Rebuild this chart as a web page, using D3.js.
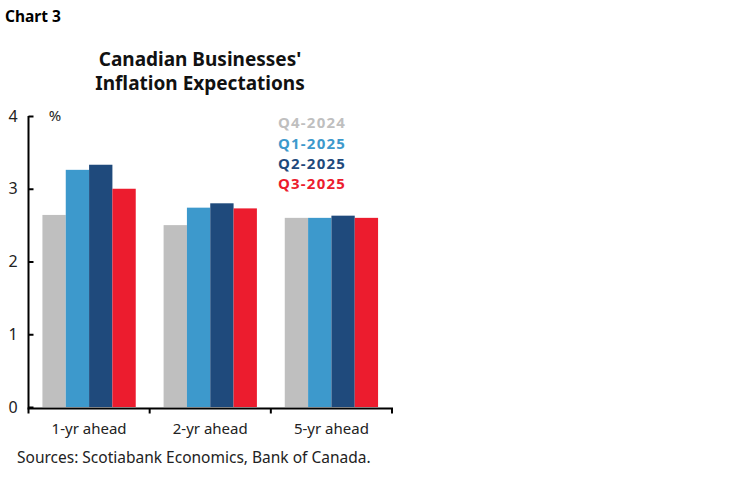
<!DOCTYPE html>
<html>
<head>
<meta charset="utf-8">
<script src="https://cdn.jsdelivr.net/npm/d3@7"></script>
<style>
  body { margin: 0; background: #fff; }
  svg { display: block; font-family: "Noto Sans", "Open Sans", sans-serif; }
</style>
</head>
<body>
<svg id="chart" width="748" height="483"></svg>
<script>
// data
var categories = ["1-yr ahead", "2-yr ahead", "5-yr ahead"];
var seriesNames = ["Q4-2024", "Q1-2025", "Q2-2025", "Q3-2025"];
var q4_2024 = [2.64, 2.50, 2.60];
var q1_2025 = [3.26, 2.74, 2.60];
var q2_2025 = [3.33, 2.80, 2.63];
var q3_2025 = [3.00, 2.73, 2.60];
var yTicks = [0, 1, 2, 3, 4];
var colors = ["#bfbfbf", "#3d99cc", "#1f4a7c", "#ec1c2e"];

var allSeries = [q4_2024, q1_2025, q2_2025, q3_2025];

var svg = d3.select("#chart");
var pLeft = 28.5, pRight = 392, pTop = 116, pBottom = 407;

var xScale = d3.scaleBand().domain(categories).range([pLeft, pRight]).paddingInner(0.23).paddingOuter(0.115);
var xInner = d3.scaleBand().domain(seriesNames).range([0, xScale.bandwidth()]);
var yScale = d3.scaleLinear().domain([0, 4]).range([pBottom, pTop]);

// chart label + title
svg.append("text").attr("x", 5).attr("y", 22)
  .attr("font-size", 15.5).attr("font-weight", "bold").attr("fill", "#000").text("Chart 3");
svg.append("text").attr("x", 200).attr("y", 66).attr("text-anchor", "middle")
  .attr("font-size", 19).attr("font-weight", "bold").attr("fill", "#111").text("Canadian Businesses'");
svg.append("text").attr("x", 200).attr("y", 90).attr("text-anchor", "middle")
  .attr("font-size", 19).attr("font-weight", "bold").attr("fill", "#111").text("Inflation Expectations");

// bars
var groups = svg.selectAll("g.grp")
  .data(categories)
  .enter().append("g").attr("class", "grp")
  .attr("transform", function(d) { return "translate(" + xScale(d) + ",0)"; });

groups.selectAll("rect")
  .data(function(d, i) { return allSeries.map(function(s, j) { return {name: seriesNames[j], v: s[i], c: colors[j]}; }); })
  .enter().append("rect")
  .attr("x", function(d) { return xInner(d.name); })
  .attr("width", xInner.bandwidth())
  .attr("y", function(d) { return yScale(d.v); })
  .attr("height", function(d) { return pBottom - yScale(d.v); })
  .attr("fill", function(d) { return d.c; });

// y axis, ticks pointing inward
var yAxis = d3.axisRight(yScale).tickValues(yTicks).tickSize(5).tickFormat("");
var yG = svg.append("g").attr("transform", "translate(" + pLeft + ",0)").call(yAxis);
yG.select(".domain").attr("stroke", "#000").attr("stroke-width", 2).attr("d", "M0," + pTop + "V" + (pBottom + 1.5));
yG.selectAll(".tick line").attr("stroke", "#000").attr("stroke-width", 2);

yTicks.forEach(function(t) {
  svg.append("text").attr("x", 13).attr("y", yScale(t)).attr("dy", "0.35em")
    .attr("text-anchor", "middle").attr("font-size", 16).attr("fill", "#222").text(t);
});
svg.append("text").attr("x", 55).attr("y", yScale(4)).attr("dy", "0.35em")
  .attr("text-anchor", "middle").attr("font-size", 15).attr("fill", "#222").text("%");

// x axis with boundary ticks
var xAxis = d3.axisBottom(xScale).tickSize(0).tickFormat("");
var xG = svg.append("g").attr("transform", "translate(0," + (pBottom + 1.5) + ")").call(xAxis);
xG.select(".domain").attr("stroke", "#000").attr("stroke-width", 2).attr("d", "M" + (pLeft - 1) + ",0H" + (pRight + 1));
var step = xScale.step();
d3.range(categories.length + 1).forEach(function(i) {
  var xx = pLeft + i * step;
  xG.append("line").attr("x1", xx).attr("x2", xx).attr("y1", 0).attr("y2", 5)
    .attr("stroke", "#000").attr("stroke-width", 2);
});
categories.forEach(function(c) {
  svg.append("text").attr("x", xScale(c) + xScale.bandwidth() / 2).attr("y", 429).attr("dy", "0.35em")
    .attr("text-anchor", "middle").attr("font-size", 15).attr("fill", "#222").text(c);
});

// legend
seriesNames.forEach(function(n, i) {
  svg.append("text").attr("x", 278).attr("y", 123 + i * 20.3).attr("dy", "0.35em")
    .attr("font-size", 15).attr("font-weight", "bold").attr("letter-spacing", 1.2)
    .attr("fill", colors[i]).text(n);
});

// source
svg.append("text").attr("x", 17).attr("y", 458).attr("dy", "0.35em")
  .attr("font-size", 15.5).attr("fill", "#222")
  .text("Sources: Scotiabank Economics, Bank of Canada.");
</script>
</body>
</html>
